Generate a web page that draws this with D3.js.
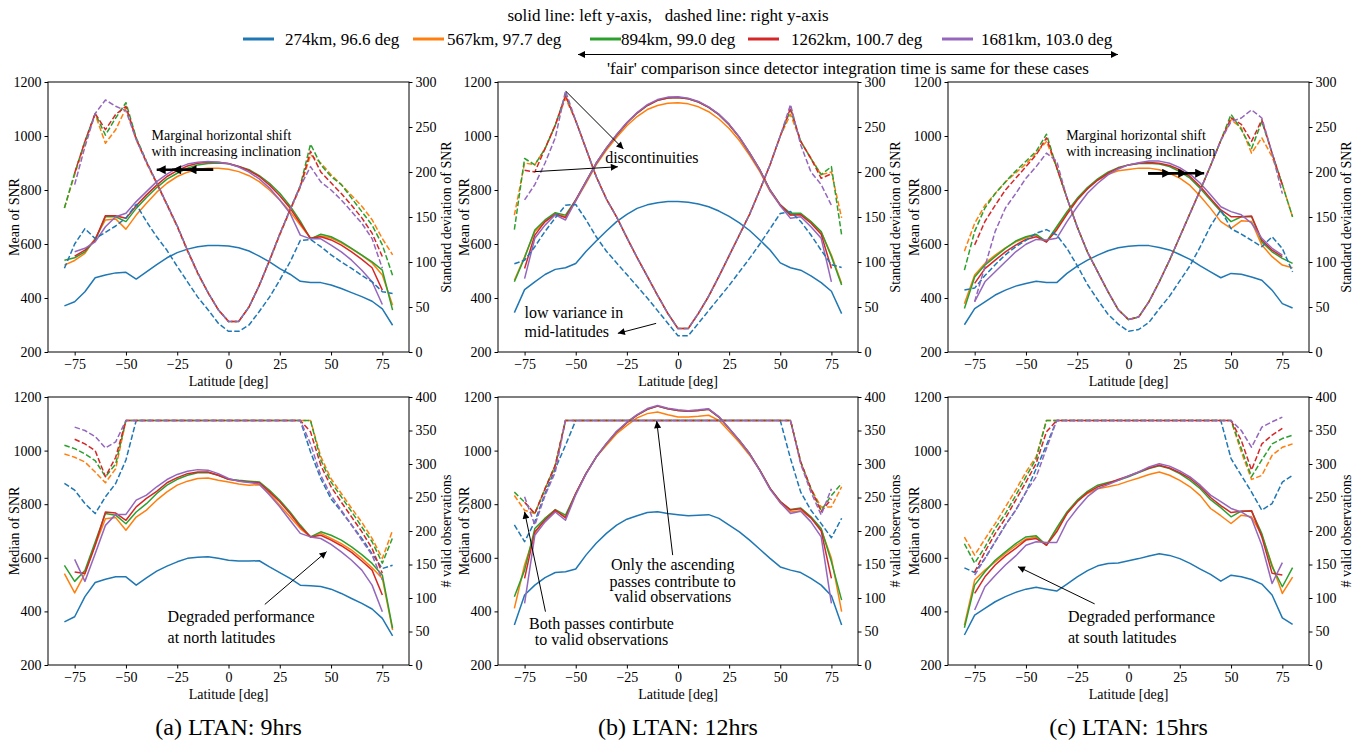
<!DOCTYPE html>
<html>
<head>
<meta charset="utf-8">
<script src="https://cdn.jsdelivr.net/npm/d3@7"></script>
<style>
  body { margin: 0; background: #fff; }
  svg { display: block; font-family: "Liberation Serif", "Times New Roman", serif; }
</style>
</head>
<body>
<svg id="fig" width="1366" height="744"></svg>
<script>
// ---------- data ----------
const latitudes = [-80,-75,-70,-65,-60,-55,-50,-45,-40,-35,-30,-25,-20,-15,-10,-5,0,5,10,15,20,25,30,35,40,45,50,55,60,65,70,75,80];
const orbitLabels = ["274km, 96.6 deg", "567km, 97.7 deg", "894km, 99.0 deg", "1262km, 100.7 deg", "1681km, 103.0 deg"];
const xTicks = [-75, -50, -25, 0, 25, 50, 75];
const snrTicks = [200, 400, 600, 800, 1000, 1200];
const stdTicks = [0, 50, 100, 150, 200, 250, 300];
const validTicks = [0, 50, 100, 150, 200, 250, 300, 350, 400];
const captions = ["(a) LTAN: 9hrs", "(b) LTAN: 12hrs", "(c) LTAN: 15hrs"];

// LTAN 9 h : mean / std of SNR (one row per orbit)
const meanSnr9 = [
  [371,386,423,475,485,493,495,470,497,524,549,568,581,590,594,594,593,586,574,555,534,509,488,462,457,457,448,435,420,405,388,360,299],
  [522,539,565,621,689,693,655,707,751,792,825,850,866,877,881,881,877,868,853,831,800,763,720,670,621,630,622,604,582,558,530,485,373],
  [540,549,571,615,701,701,683,732,772,809,840,862,881,893,898,900,897,887,875,853,825,788,741,685,619,636,627,608,584,559,534,503,355],
  [null,555,577,615,705,705,695,742,782,818,850,872,889,899,903,903,898,887,872,850,818,779,733,677,621,627,615,596,571,543,512,429,null],
  [null,571,584,608,664,701,714,757,794,831,859,881,896,903,906,903,897,885,866,841,807,763,714,633,619,619,596,571,540,503,460,376,null]
];
const stdSnr9 = [
  [93,120,137,126,133,140,149,164,145,128,113,95,78,61,47,32,23,23,30,45,61,80,100,124,125,117,108,100,93,85,78,67,65],
  [160,197,232,264,232,247,271,236,210,187,163,139,112,87,66,47,34,34,50,74,101,130,157,183,219,210,197,186,174,162,147,126,108],
  [160,199,234,265,241,260,277,238,212,188,164,140,113,88,66,47,34,34,50,74,102,131,158,185,231,208,195,186,171,156,141,119,85],
  [null,199,234,265,247,264,273,237,211,188,164,140,113,88,66,47,34,34,50,74,102,131,158,184,223,200,188,176,163,149,132,106,null],
  [null,186,228,265,280,273,268,236,211,188,164,140,113,88,66,47,34,34,50,74,102,131,158,184,206,189,180,169,156,143,126,93,null]
];

// LTAN 12 h : mean / std of SNR
const meanSnr12 = [
  [346,431,460,487,506,512,528,572,611,648,683,710,732,745,753,757,757,755,748,738,722,702,678,650,615,578,530,512,503,482,457,425,342],
  [466,553,646,683,714,701,760,825,893,948,995,1038,1072,1098,1113,1121,1123,1119,1108,1090,1063,1028,983,928,868,795,742,707,712,683,643,559,454],
  [460,549,652,689,716,707,763,831,899,955,1004,1048,1085,1113,1132,1141,1143,1138,1126,1106,1079,1042,995,937,875,800,745,714,714,683,646,553,448],
  [null,509,633,683,710,698,763,831,899,955,1004,1048,1085,1113,1132,1141,1143,1138,1126,1106,1079,1042,995,937,875,800,745,707,708,677,636,509,null],
  [null,472,621,670,708,689,760,830,899,956,1006,1050,1087,1116,1135,1144,1145,1140,1128,1108,1081,1044,996,937,874,798,742,695,701,664,621,460,null]
];
const stdSnr12 = [
  [98,102,117,134,149,163,164,147,128,112,99,86,73,60,46,32,18,18,32,46,60,74,89,104,120,137,154,156,145,130,113,97,94],
  [152,210,208,226,252,282,257,226,195,170,150,127,105,84,63,43,26,26,43,62,84,107,130,153,180,208,240,264,234,215,197,200,149],
  [136,215,208,226,252,286,257,226,195,170,150,127,105,84,63,43,26,26,43,62,84,107,130,153,180,208,240,269,234,215,197,206,130],
  [null,202,200,226,252,285,257,226,195,170,150,127,105,84,63,43,26,26,43,62,84,107,130,153,180,208,240,271,234,215,193,198,null],
  [null,169,186,210,238,290,257,226,195,170,150,127,105,84,63,43,26,26,43,62,84,107,130,153,180,208,240,275,230,200,186,163,null]
];

// LTAN 15 h : mean / std of SNR
const meanSnr15 = [
  [301,361,386,411,429,444,454,462,457,457,491,518,540,559,575,586,592,594,594,587,578,561,543,519,497,475,491,488,478,466,429,379,363],
  [379,485,528,559,586,608,623,633,609,658,714,767,807,837,858,871,876,881,881,875,862,844,817,777,732,683,658,686,683,596,553,522,512],
  [361,478,522,553,584,611,627,636,609,664,720,769,809,841,866,883,893,898,899,896,887,868,844,806,763,720,683,701,701,608,571,547,528],
  [null,454,509,540,571,596,617,627,607,652,710,763,804,837,862,881,893,899,902,899,891,875,850,813,769,726,701,701,704,615,577,553,null],
  [null,386,460,497,534,571,599,617,615,621,683,738,788,825,856,878,893,901,907,907,899,883,859,825,782,738,720,708,677,621,584,559,null]
];
const stdSnr15 = [
  [69,71,85,97,108,117,124,132,136,130,115,96,75,58,42,31,23,25,33,48,62,79,96,117,140,158,137,131,124,117,128,115,89],
  [112,143,163,176,189,199,209,221,234,205,171,139,111,89,67,47,36,39,56,78,102,128,154,180,207,235,258,249,221,238,217,186,150],
  [91,134,160,176,189,201,212,223,242,205,171,139,111,89,67,47,36,39,56,78,102,128,154,180,207,235,264,247,226,256,221,186,150],
  [null,119,145,163,180,193,206,219,238,205,171,139,111,89,67,47,36,39,56,78,102,128,154,180,207,235,260,253,234,258,221,186,null],
  [null,56,95,134,160,176,193,206,221,212,171,139,111,89,67,47,36,39,56,78,102,128,154,180,207,235,256,260,269,260,221,176,null]
];

// LTAN 9 h : median SNR / number of valid observations
const medianSnr9 = [
  [361,380,455,508,520,529,529,498,525,550,569,585,598,602,604,598,591,588,588,589,566,545,523,498,496,493,483,467,448,430,409,374,309],
  [541,469,541,647,746,750,703,752,778,815,846,871,886,896,898,889,883,875,871,873,840,796,753,709,678,691,672,653,629,598,563,523,330],
  [572,512,553,659,765,759,727,771,802,840,871,893,908,917,918,908,893,889,886,883,852,815,771,722,678,697,684,666,641,612,579,535,337],
  [null,547,541,647,771,767,740,790,822,848,880,899,914,920,920,908,893,887,883,880,846,809,765,716,678,684,666,645,620,588,554,461,null],
  [null,594,512,615,721,762,762,815,834,865,892,911,923,929,927,914,896,886,881,875,834,790,740,691,678,672,650,622,591,554,498,399,null]
];
const validObs9 = [
  [271,261,241,226,251,271,306,365,365,365,365,365,365,365,365,365,365,365,365,365,365,365,365,365,318,278,248,229,209,189,166,144,149],
  [315,310,303,288,272,293,365,365,365,365,365,365,365,365,365,365,365,365,365,365,365,365,365,365,365,311,278,256,234,213,189,159,201],
  [328,323,315,305,281,300,365,365,365,365,365,365,365,365,365,365,365,365,365,365,365,365,365,365,365,306,273,251,229,206,184,152,190],
  [null,337,330,320,281,310,365,365,365,365,365,365,365,365,365,365,365,365,365,365,365,365,365,365,348,298,266,243,221,199,174,137,null],
  [null,355,350,341,324,333,365,365,365,365,365,365,365,365,365,365,365,365,365,365,365,365,365,365,330,283,253,231,209,186,164,127,null]
];

// LTAN 12 h : median SNR / number of valid observations
const medianSnr12 = [
  [349,461,498,526,545,548,558,610,654,691,722,744,757,769,772,765,761,757,759,761,747,722,697,666,632,598,566,554,545,523,498,458,349],
  [411,573,691,747,778,753,840,914,976,1020,1063,1094,1122,1138,1144,1134,1125,1125,1128,1132,1113,1072,1030,983,927,859,805,771,776,749,706,598,399],
  [455,554,709,747,780,759,840,914,976,1026,1070,1104,1132,1154,1166,1156,1150,1147,1150,1154,1125,1082,1038,989,927,859,810,780,786,753,709,585,442],
  [null,523,697,740,778,749,840,914,976,1026,1070,1104,1132,1154,1166,1156,1150,1147,1150,1154,1125,1082,1038,989,927,859,810,778,783,749,700,523,null],
  [null,430,684,734,771,740,835,912,976,1027,1072,1106,1134,1157,1168,1158,1152,1149,1152,1156,1127,1083,1038,988,925,856,806,765,774,734,678,430,null]
];
const validObs12 = [
  [209,184,214,256,293,328,365,365,365,365,365,365,365,365,365,365,365,365,365,365,365,365,365,365,365,365,365,308,258,231,211,190,219],
  [253,231,226,263,298,365,365,365,365,365,365,365,365,365,365,365,365,365,365,365,365,365,365,365,365,365,365,365,303,263,236,236,266],
  [258,243,226,263,298,365,365,365,365,365,365,365,365,365,365,365,365,365,365,365,365,365,365,365,365,365,365,365,303,263,231,253,271],
  [null,243,226,263,298,365,365,365,365,365,365,365,365,365,365,365,365,365,365,365,365,365,365,365,365,365,365,365,303,263,229,248,null],
  [null,251,209,253,288,365,365,365,365,365,365,365,365,365,365,365,365,365,365,365,365,365,365,365,365,365,365,365,300,258,224,263,null]
];

// LTAN 15 h : median SNR / number of valid observations
const medianSnr15 = [
  [312,386,411,436,455,471,483,490,483,476,502,529,552,570,579,581,589,597,607,615,609,597,579,558,538,513,535,529,519,502,461,376,352],
  [349,517,554,585,616,645,670,678,647,707,765,812,840,858,865,873,886,898,911,920,908,889,865,832,784,757,728,759,753,684,573,467,528],
  [339,498,548,591,622,653,678,682,647,712,771,815,848,871,881,889,902,918,933,943,933,914,889,858,817,787,753,774,774,690,567,492,563],
  [null,467,529,573,607,635,666,672,647,697,765,809,843,865,877,892,905,920,935,945,935,918,896,865,825,795,769,774,776,678,542,536,null],
  [null,405,492,534,573,607,647,660,657,657,734,784,828,858,873,889,905,920,939,951,942,924,902,871,834,810,784,771,747,647,504,582,null]
];
const validObs15 = [
  [145,138,159,184,209,231,258,293,328,365,365,365,365,365,365,365,365,365,365,365,365,365,365,365,365,365,308,283,258,231,241,273,283],
  [191,164,188,211,236,261,288,311,365,365,365,365,365,365,365,365,365,365,365,365,365,365,365,365,365,365,365,318,277,283,313,325,330],
  [181,152,176,204,226,253,281,308,365,365,365,365,365,365,365,365,365,365,365,365,365,365,365,365,365,365,365,323,281,306,330,338,343],
  [null,139,169,196,219,246,273,301,348,365,365,365,365,365,365,365,365,365,365,365,365,365,365,365,365,365,365,335,291,330,343,353,null],
  [null,134,159,184,209,231,258,281,323,365,365,365,365,365,365,365,365,365,365,365,365,365,365,365,365,365,365,350,325,355,363,370,null]
];

// ---------- layout & style ----------
const palette = ["#1f77b4", "#ff7f0e", "#2ca02c", "#d62728", "#9467bd"];
const columns = [{ x0: 48, x1: 409 }, { x0: 498, x1: 858 }, { x0: 948, x1: 1309 }];
const rows = [{ y0: 82, y1: 352 }, { y0: 397, y1: 665 }];
const FONT = "'Liberation Serif', 'Times New Roman', serif";

const panels = [
  { col: 0, row: 0, left: meanSnr9,   right: stdSnr9,   rMax: 300, rTicks: stdTicks,   lLabel: "Mean of SNR",   rLabel: "Standard deviation of SNR" },
  { col: 1, row: 0, left: meanSnr12,  right: stdSnr12,  rMax: 300, rTicks: stdTicks,   lLabel: "Mean of SNR",   rLabel: "Standard deviation of SNR" },
  { col: 2, row: 0, left: meanSnr15,  right: stdSnr15,  rMax: 300, rTicks: stdTicks,   lLabel: "Mean of SNR",   rLabel: "Standard deviation of SNR" },
  { col: 0, row: 1, left: medianSnr9, right: validObs9, rMax: 400, rTicks: validTicks, lLabel: "Median of SNR", rLabel: "# valid observations" },
  { col: 1, row: 1, left: medianSnr12,right: validObs12,rMax: 400, rTicks: validTicks, lLabel: "Median of SNR", rLabel: "# valid observations" },
  { col: 2, row: 1, left: medianSnr15,right: validObs15,rMax: 400, rTicks: validTicks, lLabel: "Median of SNR", rLabel: "# valid observations" }
];

const svg = d3.select("#fig");
const defs = svg.append("defs");

function addHead(id, w, h) {
  defs.append("marker")
    .attr("id", id)
    .attr("viewBox", "0 0 10 10")
    .attr("refX", 10).attr("refY", 5)
    .attr("markerUnits", "userSpaceOnUse")
    .attr("markerWidth", w).attr("markerHeight", h)
    .attr("orient", "auto-start-reverse")
    .append("path").attr("d", "M0,0L10,5L0,10Z").attr("fill", "#000");
}
addHead("headThin", 9, 7);
addHead("headBold", 11, 9);

function arrow(g, xa, ya, xb, yb, bold, both) {
  const p = g.append("line")
    .attr("x1", xa).attr("y1", ya).attr("x2", xb).attr("y2", yb)
    .attr("stroke", "#000")
    .attr("stroke-width", bold ? 2.4 : 1)
    .attr("marker-end", `url(#${bold ? "headBold" : "headThin"})`);
  if (both) p.attr("marker-start", `url(#${bold ? "headBold" : "headThin"})`);
}

function label(g, x, y, str, size, anchor) {
  return g.append("text")
    .attr("x", x).attr("y", y)
    .attr("font-size", size)
    .attr("font-family", FONT)
    .attr("text-anchor", anchor || "start")
    .attr("dominant-baseline", "central")
    .attr("fill", "#000")
    .text(str);
}

const scales = [];

panels.forEach((p, k) => {
  const { x0, x1 } = columns[p.col];
  const { y0, y1 } = rows[p.row];
  const x = d3.scaleLinear().domain([-88, 88]).range([x0, x1]);
  const yL = d3.scaleLinear().domain([200, 1200]).range([y1, y0]);
  const yR = d3.scaleLinear().domain([0, p.rMax]).range([y1, y0]);
  scales.push({ x, yL, yR });

  const g = svg.append("g");

  const lineL = d3.line().defined(v => v != null).x((v, i) => x(latitudes[i])).y(v => yL(v));
  const lineR = d3.line().defined(v => v != null).x((v, i) => x(latitudes[i])).y(v => yR(v));

  // solid lines on the left axis
  g.append("g").selectAll("path").data(p.left).join("path")
    .attr("d", lineL)
    .attr("fill", "none")
    .attr("stroke", (d, i) => palette[i])
    .attr("stroke-width", 1.5)
    .attr("stroke-linejoin", "round");

  // dashed lines on the right axis
  g.append("g").selectAll("path").data(p.right).join("path")
    .attr("d", lineR)
    .attr("fill", "none")
    .attr("stroke", (d, i) => palette[i])
    .attr("stroke-width", 1.5)
    .attr("stroke-dasharray", "5.5,2.4")
    .attr("stroke-linejoin", "round");

  // frame
  g.append("rect")
    .attr("x", x0).attr("y", y0)
    .attr("width", x1 - x0).attr("height", y1 - y0)
    .attr("fill", "none").attr("stroke", "#000").attr("stroke-width", 1);

  const styleAxis = a => {
    a.select(".domain").remove();
    a.attr("font-size", 14).attr("font-family", FONT);
    a.selectAll("text").attr("fill", "#000");
    a.selectAll("line").attr("stroke", "#000");
  };

  g.append("g").attr("transform", `translate(0,${y1})`)
    .call(d3.axisBottom(x).tickValues(xTicks).tickSize(3.5).tickPadding(3.5).tickFormat(d3.format("d")))
    .call(styleAxis);
  g.append("g").attr("transform", `translate(${x0},0)`)
    .call(d3.axisLeft(yL).tickValues(snrTicks).tickSize(3.5).tickPadding(3).tickFormat(d3.format("d")))
    .call(styleAxis);
  g.append("g").attr("transform", `translate(${x1},0)`)
    .call(d3.axisRight(yR).tickValues(p.rTicks).tickSize(3.5).tickPadding(3).tickFormat(d3.format("d")))
    .call(styleAxis);

  // axis titles
  label(g, (x0 + x1) / 2, y1 + 29, "Latitude [deg]", 14, "middle");
  label(g, 0, 0, p.lLabel, 14, "middle")
    .attr("transform", `translate(${x0 - 33.5},${(y0 + y1) / 2}) rotate(-90)`);
  label(g, 0, 0, p.rLabel, 14, "middle")
    .attr("transform", `translate(${x1 + 37.7},${(y0 + y1) / 2}) rotate(-90)`);
});

// sub-figure captions
captions.forEach((c, i) => {
  const { x0, x1 } = columns[i];
  label(svg, (x0 + x1) / 2, 727, c, 24, "middle");
});

// ---------- annotations ----------
const ann = svg.append("g");
{
  // (a) top
  const { x, yL } = scales[0];
  label(ann, x(-37.5), yL(1001), "Marginal horizontal shift", 14);
  label(ann, x(-37.5), yL(942), "with increasing inclination", 14);
  [-20, -27.5, -35].forEach(h => arrow(ann, x(-7.5), yL(875), x(h), yL(875), true));
}
{
  // (b) top
  const { x, yL } = scales[1];
  label(ann, x(-35.6), yL(920), "discontinuities", 16);
  arrow(ann, x(-55), yL(1167), x(-26.7), yL(952), false);
  arrow(ann, x(-70), yL(868), x(-29.4), yL(886), false);
  label(ann, x(-75), yL(347), "low variance in", 16);
  label(ann, x(-75), yL(275), "mid-latitudes", 16);
  arrow(ann, x(-10.7), yL(306), x(-29.4), yL(269), false);
}
{
  // (c) top
  const { x, yL } = scales[2];
  label(ann, x(-30.4), yL(1001), "Marginal horizontal shift", 14);
  label(ann, x(-30.4), yL(942), "with increasing inclination", 14);
  [20.8, 28.6, 36.9].forEach(h => arrow(ann, x(9.6), yL(862), x(h), yL(862), true));
}
{
  // (a) bottom
  const { x, yL } = scales[3];
  label(ann, x(-29.7), yL(380), "Degraded performance", 16);
  label(ann, x(-29.7), yL(302), "at north latitudes", 16);
  arrow(ann, x(17.7), yL(426), x(47.8), yL(623), false);
}
{
  // (b) bottom
  const { x, yL } = scales[4];
  label(ann, x(-2.6), yL(576), "Only the ascending", 16, "middle");
  label(ann, x(-2.6), yL(513), "passes contribute to", 16, "middle");
  label(ann, x(-2.6), yL(455), "valid observations", 16, "middle");
  arrow(ann, x(-2.6), yL(610), x(-10.4), yL(1110), false);
  label(ann, x(-37.4), yL(356), "Both passes contirbute", 16, "middle");
  label(ann, x(-37.4), yL(297), "to valid observations", 16, "middle");
  arrow(ann, x(-64.8), yL(399), x(-75), yL(772), false);
}
{
  // (c) bottom
  const { x, yL } = scales[5];
  label(ann, x(-29.5), yL(380), "Degraded performance", 16);
  label(ann, x(-29.5), yL(302), "at south latitudes", 16);
  arrow(ann, x(-16.5), yL(428), x(-53.9), yL(567), false);
}

// ---------- legend ----------
const leg = svg.append("g");
label(leg, 668, 15, "solid line: left y-axis,   dashed line: right y-axis", 17, "middle")
  .attr("xml:space", "preserve").style("white-space", "pre");

const handleX = [243, 413, 590, 748, 942];
const textX = [285, 447, 621, 791, 981];
orbitLabels.forEach((t, i) => {
  leg.append("line")
    .attr("x1", handleX[i]).attr("x2", handleX[i] + 31)
    .attr("y1", 39).attr("y2", 39)
    .attr("stroke", palette[i]).attr("stroke-width", 3);
  label(leg, textX[i], 39, t, 17);
});

arrow(leg, 578, 54.5, 1118, 54.5, false, true);
label(leg, 848, 68, "'fair' comparison since detector integration time is same for these cases", 17, "middle");
</script>
</body>
</html>
